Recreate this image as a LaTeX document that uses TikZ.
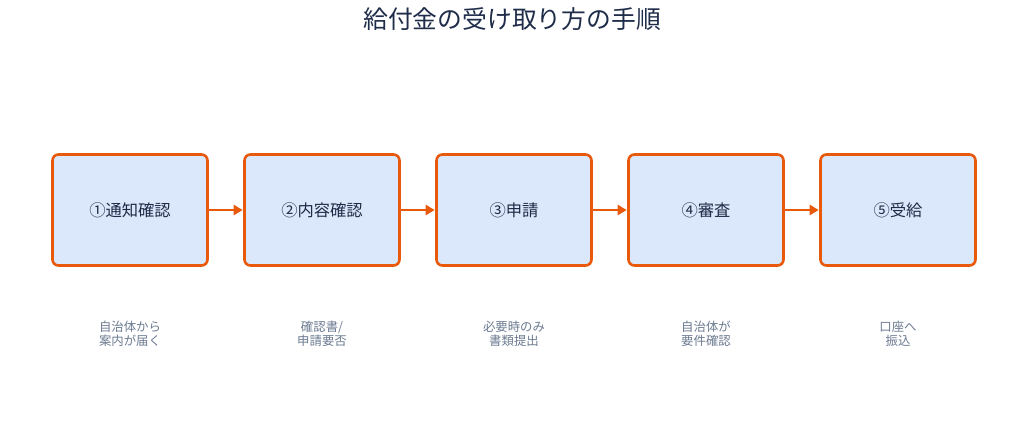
\documentclass[tikz,border=0pt]{standalone}
\usepackage{fontspec}
\setmainfont{Noto Sans CJK JP}
\usetikzlibrary{arrows.meta}
\definecolor{boxfill}{HTML}{DBE8FC}
\definecolor{boxline}{HTML}{E8590C}
\definecolor{titlecol}{HTML}{1F2D4A}
\definecolor{labelcol}{HTML}{1E2A44}
\definecolor{capcol}{HTML}{6B7A90}
\tikzset{
  stepbox/.style={draw=boxline, fill=boxfill, line width=2.6pt, rounded corners=6pt,
    minimum width=155pt, minimum height=111pt, inner sep=0pt,
    font=\fontsize{16.3}{19}\selectfont, text=labelcol},
  caption/.style={align=center, font=\fontsize{12.4}{14}\selectfont, text=capcol},
  flow/.style={draw=boxline, line width=2.6pt, -{Triangle[length=9pt,width=10pt]}, shorten >=0.5pt},
}
\begin{document}
\begin{tikzpicture}[x=1pt,y=1pt]
\useasboundingbox (0,0) rectangle (1027,-432);
\node[font=\fontsize{24.8}{28}\selectfont, text=titlecol] (title) at (512,-19) {給付金の受け取り方の手順};
\node[stepbox] (s1) at (130,-210) {①通知確認};
\node[stepbox] (s2) at (322,-210) {②内容確認};
\node[stepbox] (s3) at (514,-210) {③申請};
\node[stepbox] (s4) at (706,-210) {④審査};
\node[stepbox] (s5) at (898,-210) {⑤受給};
\draw[flow] (s1.east) -- (s2.west);
\draw[flow] (s2.east) -- (s3.west);
\draw[flow] (s3.east) -- (s4.west);
\draw[flow] (s4.east) -- (s5.west);
\node[caption] (c1) at (130,-334) {自治体から\\案内が届く};
\node[caption] (c2) at (322,-334) {確認書/\\申請要否};
\node[caption] (c3) at (514,-334) {必要時のみ\\書類提出};
\node[caption] (c4) at (706,-334) {自治体が\\要件確認};
\node[caption] (c5) at (898,-334) {口座へ\\振込};
\end{tikzpicture}
\end{document}
